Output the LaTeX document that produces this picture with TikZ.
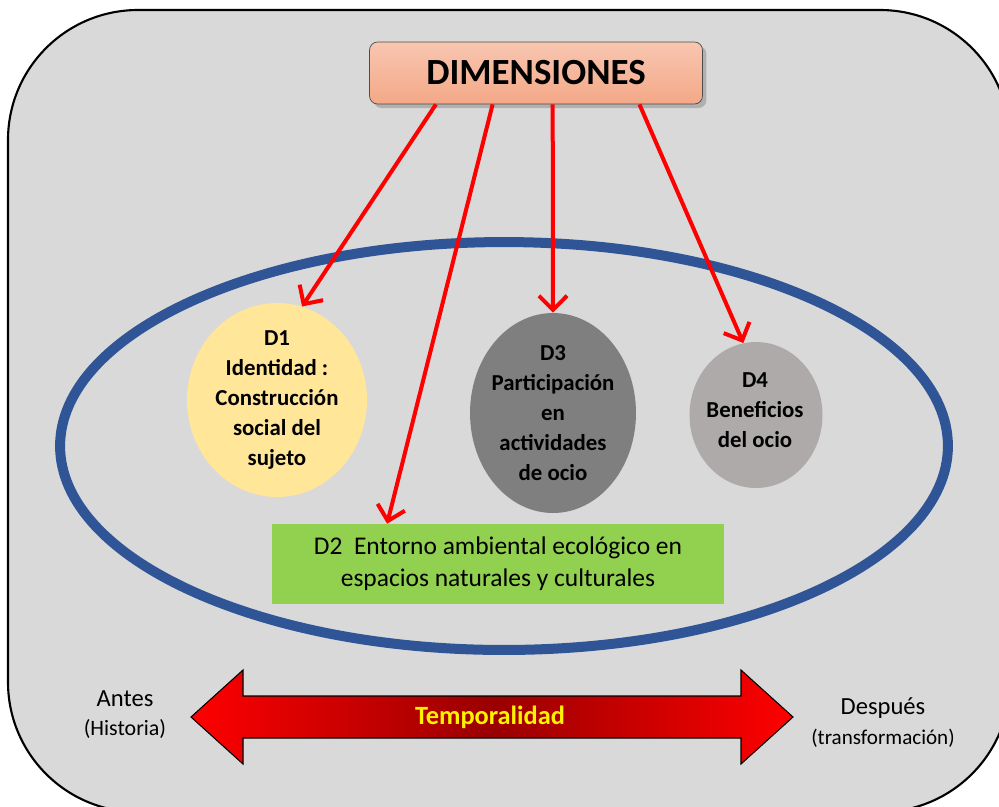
\documentclass[tikz,border=0pt]{standalone}
\usepackage{fontspec}
\setmainfont{Carlito}
\usetikzlibrary{shapes.geometric,arrows.meta,shadows,calc}
\definecolor{fondo}{HTML}{D9D9D9}
\definecolor{azul}{HTML}{2F5597}
\definecolor{salmon1}{HTML}{F8C6B0}
\definecolor{salmon2}{HTML}{F4A888}
\definecolor{amarillo}{HTML}{FFE699}
\definecolor{gris1}{HTML}{7F7F7F}
\definecolor{gris2}{HTML}{AEAAAA}
\definecolor{verde}{HTML}{92D050}
\begin{document}
\begin{tikzpicture}[x=0.02cm,y=-0.02cm,>={Straight Barb[length=8pt,width=16pt]},
	bubble/.style={ellipse,inner sep=0pt},
	lbl/.style={align=center,font=\bfseries\fontsize{13}{17}\selectfont},
	link/.style={->,red,line width=0.08cm}]
	\useasboundingbox (0,0) rectangle (999,806);
	\clip (0,0) rectangle (999,806);
	\draw[fill=fondo,line width=1.2pt,rounded corners=2.6cm] (8,10) rectangle (1010,812);
	\draw[azul,line width=0.2cm] (504,446) ellipse [x radius=8.88cm,y radius=4.08cm];
	\node[draw=black!70,rounded corners=0.16cm,top color=salmon1,bottom color=salmon2,
		drop shadow={shadow xshift=0.08cm,shadow yshift=-0.08cm,opacity=0.45},
		minimum width=6.66cm,minimum height=1.24cm,font=\bfseries\fontsize{21}{25}\selectfont] (dim) at (536,73) {DIMENSIONES};
	\node[bubble,fill=amarillo,minimum width=3.6cm,minimum height=3.88cm] (d1) at (277,400) {};
	\node[lbl] at (d1) {D1\\Identidad :\\Construcción\\social del\\sujeto};
	\node[bubble,fill=gris1,minimum width=3.32cm,minimum height=4cm] (d3) at (553,413) {};
	\node[lbl] at (d3) {D3\\Participación\\en\\actividades\\de ocio};
	\node[bubble,fill=gris2,minimum width=2.66cm,minimum height=2.92cm] (d4) at (756,415) {};
	\node[lbl] at (755,410) {D4\\Beneficios\\del ocio};
	\node[fill=verde,minimum width=9.04cm,minimum height=1.6cm,align=center,
		font=\fontsize{14.5}{18}\selectfont] (d2) at (498,564) {D2~ Entorno ambiental ecológico en\\espacios naturales y culturales};
	\draw[link] ($(dim.south west)!0.2!(dim.south east)$) -- (d1.75);
	\draw[link] ($(dim.south west)!0.37!(dim.south east)$) -- ($(d2.north west)!0.255!(d2.north east)$);
	\draw[link] ($(dim.south west)!0.55!(dim.south east)$) -- (d3.north);
	\draw[link] ($(dim.south west)!0.81!(dim.south east)$) -- (d4.100);
	\shade[left color=red,right color=red,middle color=red!60!black,draw=black,line width=0.6pt]
		(191,717) -- (243,670) -- (243,696) -- (741,696) -- (741,670) -- (793,717)
		-- (741,764) -- (741,738) -- (243,738) -- (243,764) -- cycle;
	\node[font=\bfseries\fontsize{15}{17}\selectfont,text=yellow] (temp) at (490,717) {Temporalidad};
	\node[font=\fontsize{14}{16}\selectfont] (antes) at (125,699) {Antes};
	\node[font=\fontsize{12.5}{14}\selectfont] (hist) at (125,729) {(Historia)};
	\node[font=\fontsize{14}{16}\selectfont] (despues) at (883,708) {Después};
	\node[font=\fontsize{12}{14}\selectfont] (transf) at (883,738) {(transformación)};
\end{tikzpicture}
\end{document}
